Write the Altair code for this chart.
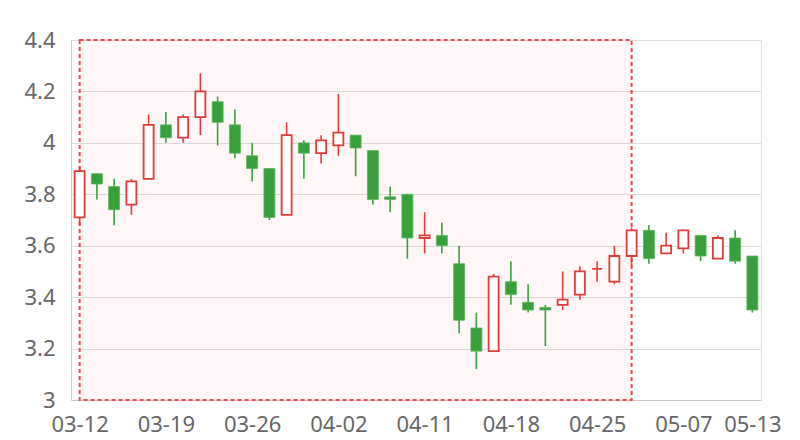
import json
import altair as alt
import pandas as pd

dates = ["03-12", "03-13", "03-14", "03-15", "03-16", "03-19", "03-20", "03-21", "03-22", "03-23",
         "03-26", "03-27", "03-28", "03-29", "03-30", "04-02", "04-03", "04-04", "04-09", "04-10",
         "04-11", "04-12", "04-13", "04-16", "04-17", "04-18", "04-19", "04-20", "04-23", "04-24",
         "04-25", "04-26", "04-27", "05-02", "05-03", "05-07", "05-08", "05-09", "05-10", "05-13"]
open_ = [3.71, 3.88, 3.83, 3.76, 3.86, 4.07, 4.02, 4.10, 4.16, 4.07,
         3.95, 3.90, 3.72, 4.00, 3.96, 3.99, 4.03, 3.97, 3.79, 3.80,
         3.63, 3.64, 3.53, 3.28, 3.19, 3.46, 3.38, 3.36, 3.37, 3.41,
         3.51, 3.46, 3.56, 3.66, 3.57, 3.59, 3.64, 3.55, 3.63, 3.56]
close = [3.89, 3.84, 3.74, 3.85, 4.07, 4.02, 4.10, 4.20, 4.08, 3.96,
         3.90, 3.71, 4.03, 3.96, 4.01, 4.04, 3.98, 3.78, 3.78, 3.63,
         3.64, 3.60, 3.31, 3.19, 3.48, 3.41, 3.35, 3.35, 3.39, 3.50,
         3.51, 3.56, 3.66, 3.55, 3.60, 3.66, 3.56, 3.63, 3.54, 3.35]
high = [3.91, 3.88, 3.86, 3.86, 4.11, 4.12, 4.11, 4.27, 4.18, 4.13,
        4.00, 3.90, 4.08, 4.01, 4.03, 4.19, 4.03, 3.97, 3.83, 3.80,
        3.73, 3.69, 3.60, 3.34, 3.49, 3.54, 3.45, 3.37, 3.50, 3.52,
        3.54, 3.60, 3.67, 3.68, 3.65, 3.66, 3.64, 3.64, 3.66, 3.56]
low = [3.68, 3.78, 3.68, 3.72, 3.86, 4.00, 4.00, 4.03, 3.99, 3.94,
       3.85, 3.70, 3.72, 3.86, 3.92, 3.95, 3.87, 3.76, 3.73, 3.55,
       3.57, 3.57, 3.26, 3.12, 3.19, 3.37, 3.34, 3.21, 3.35, 3.39,
       3.46, 3.45, 3.52, 3.53, 3.57, 3.57, 3.54, 3.55, 3.53, 3.34]

label_idx = [0, 5, 10, 15, 20, 25, 30, 35, 39]
y_ticks = [3, 3.2, 3.4, 3.6, 3.8, 4, 4.2, 4.4]
highlight_start, highlight_end = 0, 32

RED = "#e33b3b"
GREEN = "#37a03a"
FONT = "Noto Sans"

df = pd.DataFrame({"i": list(range(len(dates))), "date": dates, "open": open_,
                   "close": close, "high": high, "low": low})
df["up"] = df["close"] >= df["open"]
df["lo_body"] = df[["open", "close"]].min(axis=1)
df["hi_body"] = df[["open", "close"]].max(axis=1)

label_expr = json.dumps(dates) + "[datum.value]"

x_scale = alt.Scale(domain=[-0.5, len(dates) - 0.5], nice=False, zero=False, padding=0)
x_axis = alt.Axis(values=label_idx, labelExpr=label_expr, grid=False, ticks=False,
                  title=None, domainColor="#cccccc", labelColor="#666666",
                  labelFontSize=22, labelFont=FONT, labelPadding=14,
                  labelOverlap=False, labelFlush=False)
x_enc = alt.X("i:Q", scale=x_scale, axis=x_axis)
y_scale = alt.Scale(domain=[3, 4.4], nice=False, zero=False)
y_axis = alt.Axis(values=y_ticks, format="~g", ticks=False, title=None, gridColor="#dddddd",
                  domainColor="#cccccc", labelColor="#666666", labelFontSize=22,
                  labelFont=FONT, labelPadding=16)

hl = pd.DataFrame({"x": [highlight_start], "x2": [highlight_end], "y": [3.0], "y2": [4.4]})
rect = alt.Chart(hl).mark_rect(fill="#ff0000", fillOpacity=0.03, stroke="#ee4a4a",
                               strokeDash=[4, 3], strokeWidth=2).encode(
    x=alt.X("x:Q", scale=x_scale, axis=x_axis),
    x2="x2:Q",
    y=alt.Y("y:Q", scale=y_scale, axis=y_axis),
    y2="y2:Q",
)

base = alt.Chart(df)
color_scale = alt.Scale(domain=[True, False], range=[RED, GREEN])

wick = base.mark_rule(strokeWidth=1.6).encode(
    x=x_enc,
    y=alt.Y("low:Q", scale=y_scale, axis=y_axis),
    y2="high:Q",
    color=alt.Color("up:N", scale=color_scale, legend=None),
)

up_body = base.transform_filter("datum.up").mark_bar(
    size=10, fill="white", stroke=RED, strokeWidth=1.8).encode(
    x=x_enc,
    y=alt.Y("lo_body:Q", scale=y_scale, axis=y_axis),
    y2="hi_body:Q",
)
down_body = base.transform_filter("!datum.up").mark_bar(
    size=11, fill=GREEN, stroke="#5cb85c", strokeWidth=0.8).encode(
    x=x_enc,
    y=alt.Y("lo_body:Q", scale=y_scale, axis=y_axis),
    y2="hi_body:Q",
)

chart = alt.layer(rect, wick, up_body, down_body).properties(
    width=690, height=360,
    autosize=alt.AutoSizeParams(type="none"),
    padding={"left": 63, "top": 32, "right": 30, "bottom": 40},
).configure_view(stroke="#cccccc").configure(background="white")

chart.save("out.html", embed_options={"renderer": "svg", "actions": False})
